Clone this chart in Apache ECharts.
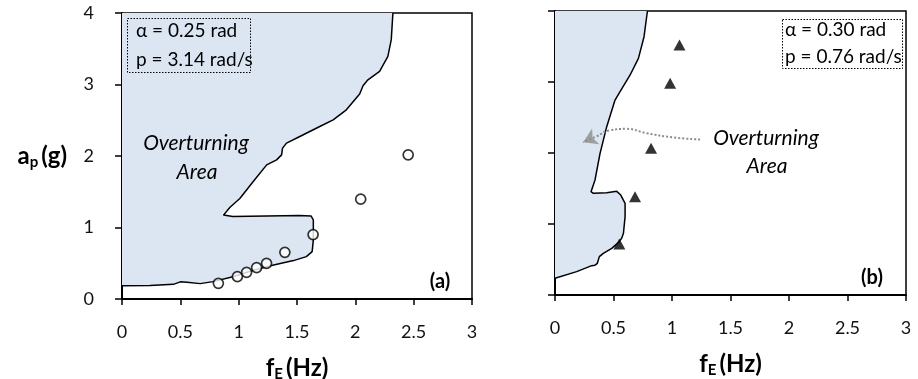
<!DOCTYPE html>
<html>
<head>
<meta charset="utf-8">
<script src="https://cdn.jsdelivr.net/npm/echarts@6/dist/echarts.min.js"></script>
<style>html,body{margin:0;padding:0;background:#fff}#c{width:918px;height:379px}</style>
</head>
<body>
<div id="c"></div>
<script>
// ---- data ----
const xTicks = [0, 0.5, 1, 1.5, 2, 2.5, 3];
const yTicks = [0, 1, 2, 3, 4];

// panel (a): overturning boundary  [fE (Hz), ap (g)]
const boundaryA = [
  [0, 0.187], [0.24, 0.19], [0.44, 0.205], [0.5, 0.24], [0.557, 0.233], [0.67, 0.215],
  [0.78, 0.243], [0.95, 0.31], [1.125, 0.40], [1.30, 0.476], [1.47, 0.537], [1.58, 0.593],
  [1.63, 0.663], [1.64, 0.826], [1.64, 1.106], [1.62, 1.162], [1.52, 1.167], [1.24, 1.162],
  [0.95, 1.153], [0.87, 1.176], [0.855, 1.20], [0.926, 1.284], [1.01, 1.405], [1.125, 1.643],
  [1.24, 1.876], [1.325, 1.946], [1.368, 2.016], [1.376, 2.11], [1.41, 2.18], [1.524, 2.273],
  [1.695, 2.413], [1.81, 2.506], [1.923, 2.646], [2.037, 2.866], [2.066, 2.982], [2.108, 3.066],
  [2.208, 3.183], [2.279, 3.393], [2.308, 3.627], [2.322, 4.0]
];
// panel (a): test points (circles)
const pointsA = [
  [0.826, 0.219], [0.989, 0.313], [1.068, 0.373], [1.154, 0.439], [1.239, 0.499],
  [1.396, 0.653], [1.638, 0.901], [2.046, 1.396], [2.453, 2.016]
];

// panel (b): overturning boundary
const boundaryB = [
  [0, 0.235], [0.185, 0.329], [0.314, 0.413], [0.342, 0.42], [0.362, 0.446], [0.379, 0.54],
  [0.413, 0.587], [0.485, 0.657], [0.55, 0.751], [0.57, 0.80], [0.585, 0.869], [0.599, 1.103],
  [0.599, 1.29], [0.562, 1.408], [0.528, 1.46], [0.442, 1.441], [0.328, 1.432], [0.308, 1.455],
  [0.342, 1.62], [0.385, 1.995], [0.442, 2.371], [0.513, 2.746], [0.556, 2.864], [0.642, 3.099],
  [0.713, 3.333], [0.761, 3.638], [0.79, 4.0]
];
// panel (b): test points (triangles)
const pointsB = [
  [0.55, 0.718], [0.684, 1.385], [0.821, 2.066], [0.984, 2.981], [1.064, 3.521]
];
// panel (b): dotted pointer towards the overturning area
const arrowPath = [
  [1.24, 2.19], [1.01, 2.22], [0.78, 2.28], [0.61, 2.34], [0.47, 2.32], [0.35, 2.23], [0.24, 2.15]
];
const arrowHead = [[0.24, 2.15]];

const FONT = 'Lato';
const FILL = '#dce6f2';

function polyRender(pts, corner) {
  return function (params, api) {
    if (params.dataIndex !== 0) return null;
    const points = pts.map(p => api.coord(p));
    points.push(api.coord(corner));
    return { type: 'polygon', shape: { points: points }, style: { fill: FILL } };
  };
}

const titleRich = {
  a: { fontFamily: FONT, fontSize: 24, fontWeight: 'bold', color: '#000', lineHeight: 28 },
  s: { fontFamily: FONT, fontSize: 15, fontWeight: 'bold', color: '#000', lineHeight: 28, padding: [12, 3, 0, 0] }
};

function xAxisDef(idx, gap) {
  return {
    type: 'value', gridIndex: idx, min: 0, max: 3, interval: 0.5,
    name: '{a|f}{s|E}{a|(Hz)}', nameLocation: 'middle', nameGap: gap,
    nameTextStyle: { rich: titleRich },
    axisLine: { show: true, onZero: false, lineStyle: { color: '#000', width: 2 } },
    axisTick: { show: true, inside: false, length: 6, lineStyle: { color: '#000', width: 1.5 } },
    axisLabel: { show: true, margin: 24, fontFamily: FONT, fontSize: 18, color: '#111',
      formatter: v => String(v) },
    splitLine: { show: false }
  };
}
function yAxisDef(idx, showLabel) {
  const a = {
    type: 'value', gridIndex: idx, min: 0, max: 4, interval: 1,
    axisLine: { show: true, onZero: false, lineStyle: { color: '#000', width: 2 } },
    axisTick: { show: true, inside: false, length: 7, lineStyle: { color: '#000', width: 1.5 } },
    axisLabel: { show: showLabel, margin: 28, fontFamily: FONT, fontSize: 18, color: '#111' },
    splitLine: { show: false }
  };
  if (showLabel) {
    a.name = '{a|a}{s|p}{a|(g)}';
    a.nameLocation = 'middle';
    a.nameRotate = 0;
    a.nameGap = 55;
    a.nameTextStyle = { rich: titleRich };
  }
  return a;
}

const chart = echarts.init(document.getElementById('c'), null, { renderer: 'canvas' });
chart.setOption({
  animation: false,
  backgroundColor: '#fff',
  grid: [
    { left: 122, top: 13, width: 350, height: 286, show: true, borderColor: '#000', borderWidth: 1.5, backgroundColor: 'transparent', containLabel: false, outerBoundsMode: 'none' },
    { left: 555, top: 11, width: 351, height: 284, show: true, borderColor: '#000', borderWidth: 1.5, backgroundColor: 'transparent', containLabel: false, outerBoundsMode: 'none' }
  ],
  xAxis: [xAxisDef(0, 55), xAxisDef(1, 55)],
  yAxis: [yAxisDef(0, true), yAxisDef(1, false)],
  series: [
    { type: 'custom', xAxisIndex: 0, yAxisIndex: 0, data: [[0, 0]], renderItem: polyRender(boundaryA, [0, 4]), z: 1, silent: true },
    { type: 'line', xAxisIndex: 0, yAxisIndex: 0, data: boundaryA, showSymbol: false, symbol: 'none',
      lineStyle: { color: '#000', width: 1.5 }, z: 3 },
    { type: 'scatter', xAxisIndex: 0, yAxisIndex: 0, data: pointsA, symbol: 'circle', symbolSize: 10,
      itemStyle: { color: '#fff', borderColor: '#000', borderWidth: 1.7 }, z: 5 },

    { type: 'custom', xAxisIndex: 1, yAxisIndex: 1, data: [[0, 0]], renderItem: polyRender(boundaryB, [0, 4]), z: 1, silent: true },
    { type: 'line', xAxisIndex: 1, yAxisIndex: 1, data: boundaryB, showSymbol: false, symbol: 'none',
      lineStyle: { color: '#000', width: 1.5 }, z: 3 },
    { type: 'scatter', xAxisIndex: 1, yAxisIndex: 1, data: pointsB, symbol: 'triangle', symbolSize: [12, 11],
      itemStyle: { color: '#000' }, z: 5 },
    { type: 'line', xAxisIndex: 1, yAxisIndex: 1, data: arrowPath, smooth: 0.5, showSymbol: false, symbol: 'none',
      lineStyle: { color: '#8c8c8c', width: 2, type: [2, 2] }, z: 4 },
    { type: 'scatter', xAxisIndex: 1, yAxisIndex: 1, data: arrowHead, symbol: 'arrow', symbolSize: [13, 14], symbolRotate: 115,
      itemStyle: { color: '#8c8c8c' }, z: 4 }
  ],
  graphic: [
    { type: 'rect', shape: { x: 127.5, y: 18.5, width: 123, height: 54 }, style: { fill: null, stroke: '#000', lineWidth: 1, lineDash: [1.5, 1.5] }, z: 10 },
    { type: 'text', x: 136, y: 31, style: { text: 'α = 0.25 rad', font: '19px Lato', fill: '#000', verticalAlign: 'middle' }, z: 10 },
    { type: 'text', x: 136, y: 60, style: { text: 'p = 3.14 rad/s', font: '19px Lato', fill: '#000', verticalAlign: 'middle' }, z: 10 },
    { type: 'rect', shape: { x: 782.5, y: 19.5, width: 120, height: 49 }, style: { fill: null, stroke: '#000', lineWidth: 1, lineDash: [1.5, 1.5] }, z: 10 },
    { type: 'text', x: 785, y: 30, style: { text: 'α = 0.30 rad', font: '19px Lato', fill: '#000', verticalAlign: 'middle' }, z: 10 },
    { type: 'text', x: 785, y: 57, style: { text: 'p = 0.76 rad/s', font: '19px Lato', fill: '#000', verticalAlign: 'middle' }, z: 10 },

    { type: 'text', x: 196, y: 143, style: { text: 'Overturning', font: 'italic 21px Lato', fill: '#000', align: 'center', verticalAlign: 'middle' }, z: 10 },
    { type: 'text', x: 197, y: 172, style: { text: 'Area', font: 'italic 21px Lato', fill: '#000', align: 'center', verticalAlign: 'middle' }, z: 10 },
    { type: 'text', x: 766, y: 138, style: { text: 'Overturning', font: 'italic 21px Lato', fill: '#000', align: 'center', verticalAlign: 'middle' }, z: 10 },
    { type: 'text', x: 767, y: 166, style: { text: 'Area', font: 'italic 21px Lato', fill: '#000', align: 'center', verticalAlign: 'middle' }, z: 10 },

    { type: 'text', x: 440, y: 282, style: { text: '(a)', font: 'bold 20px Lato', fill: '#000', align: 'center', verticalAlign: 'middle' }, z: 10 },
    { type: 'text', x: 872, y: 278, style: { text: '(b)', font: 'bold 20px Lato', fill: '#000', align: 'center', verticalAlign: 'middle' }, z: 10 }
  ]
});
</script>
</body>
</html>
